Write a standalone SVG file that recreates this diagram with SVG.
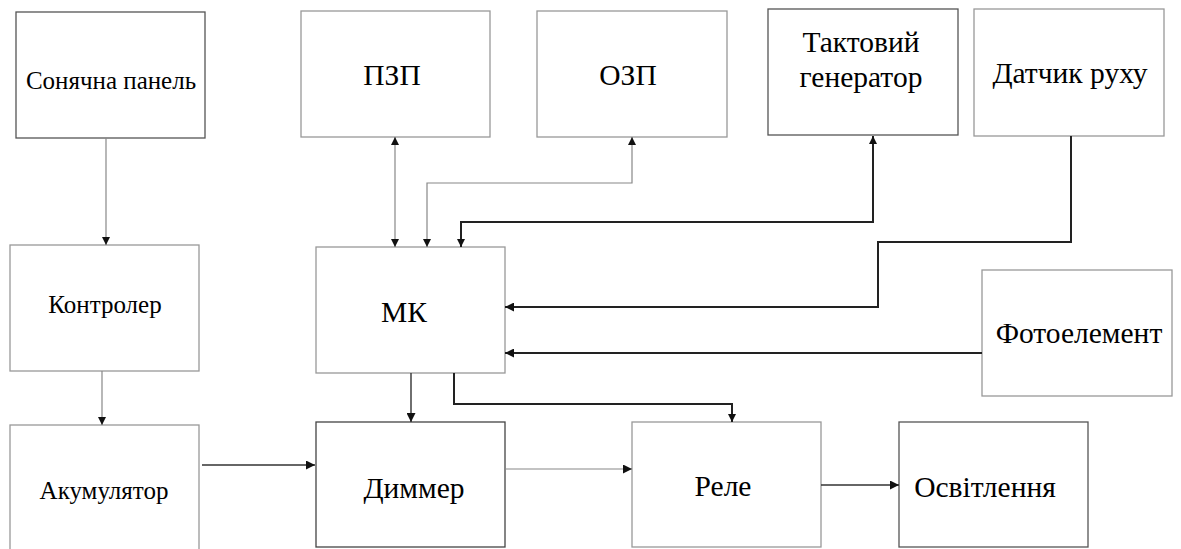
<svg xmlns="http://www.w3.org/2000/svg" width="1181" height="549" viewBox="0 0 1181 549">
<style>
.box{fill:#fff;stroke:#999;stroke-width:1.3}
.dk{stroke:#555}
.t{font-family:"Liberation Serif","DejaVu Serif",serif;font-size:25px;fill:#000;text-anchor:middle}
.big{font-size:29.5px}
.thin{fill:none;stroke:#888;stroke-width:1.2}
.mid{fill:none;stroke:#333;stroke-width:1.4}
.thick{fill:none;stroke:#222;stroke-width:2}
</style>
<defs>
<marker id="a" viewBox="0 0 10 10" refX="10" refY="5" markerWidth="9" markerHeight="8" markerUnits="userSpaceOnUse" orient="auto-start-reverse"><path d="M0,0L10,5L0,10z" fill="#111"/></marker>
<marker id="b" viewBox="0 0 10 10" refX="10" refY="5" markerWidth="12" markerHeight="9" markerUnits="userSpaceOnUse" orient="auto-start-reverse"><path d="M0,0L10,5L0,10z" fill="#111"/></marker>
</defs>
<rect width="1181" height="549" fill="#fff"/>
<g id="solar"><rect class="box dk" x="16" y="12" width="189" height="126"/><text class="t" x="111" y="89">Сонячна панель</text></g>
<g id="controller"><rect class="box" x="10" y="245" width="189" height="126"/><text class="t" x="105" y="313">Контролер</text></g>
<g id="battery"><rect class="box" x="10" y="425" width="189" height="130"/><text class="t" x="104" y="499">Акумулятор</text></g>
<g id="rom"><rect class="box" x="301" y="11" width="189" height="126"/><text class="t big" x="392" y="85">ПЗП</text></g>
<g id="ram"><rect class="box" x="537" y="11" width="190" height="126"/><text class="t big" x="628" y="85">ОЗП</text></g>
<g id="clock"><rect class="box dk" x="768" y="9" width="190" height="126"/><text class="t big" x="861" y="52">Тактовий</text><text class="t big" x="861" y="87">генератор</text></g>
<g id="motion"><rect class="box" x="974" y="9" width="190" height="127"/><text class="t big" x="1070" y="83">Датчик руху</text></g>
<g id="mcu"><rect class="box" x="316" y="247" width="189" height="126"/><text class="t big" x="404" y="322">МК</text></g>
<g id="photo"><rect class="box" x="982" y="270" width="190" height="126"/><text class="t big" x="1079" y="343">Фотоелемент</text></g>
<g id="dimmer"><rect class="box" style="stroke:#444" x="316" y="422" width="189" height="125"/><text class="t big" x="414" y="498">Диммер</text></g>
<g id="relay"><rect class="box" x="632" y="422" width="189" height="125"/><text class="t big" x="723" y="496">Реле</text></g>
<g id="light"><rect class="box dk" x="899" y="422" width="189" height="125"/><text class="t big" x="985" y="497">Освітлення</text></g>
<g id="connectors">
<path class="thin" d="M106,138V245" marker-end="url(#a)"/>
<path class="thin" d="M102,371V425" marker-end="url(#a)"/>
<path class="thin" d="M395,137V247" marker-start="url(#a)" marker-end="url(#a)"/>
<path class="thin" d="M632,137V183H427V247" marker-start="url(#a)" marker-end="url(#a)"/>
<path class="thick" d="M873,136V222H461V247" marker-start="url(#a)" marker-end="url(#a)"/>
<path class="thick" d="M1071,136V242H878V307H505" marker-end="url(#b)"/>
<path class="thick" d="M982,353H505" marker-end="url(#b)"/>
<path class="mid" d="M411,373V422" marker-end="url(#b)"/>
<path class="thick" d="M454,373V404H732V422" marker-end="url(#a)"/>
<path class="mid" d="M202,465H315" marker-end="url(#b)"/>
<path class="thin" d="M505,469H632" marker-end="url(#b)"/>
<path class="mid" d="M821,485H899" marker-end="url(#b)"/>
</g>
</svg>
